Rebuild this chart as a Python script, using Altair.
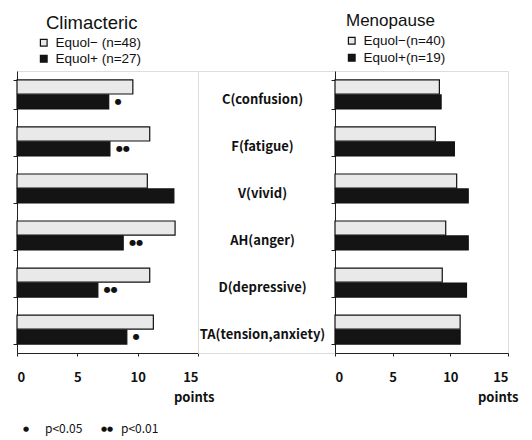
import altair as alt
import pandas as pd

categories = ["C(confusion)", "F(fatigue)", "V(vivid)", "AH(anger)", "D(depressive)", "TA(tension,anxiety)"]

clim_groups = ["Equol− (n=48)", "Equol+ (n=27)"]
clim_neg = [9.6, 11.0, 10.8, 13.1, 11.0, 11.3]
clim_pos = [7.6, 7.7, 13.0, 8.8, 6.7, 9.1]
clim_sig = ["●", "●●", "", "●●", "●●", "●"]

meno_groups = ["Equol−(n=40)", "Equol+(n=19)"]
meno_neg = [9.05, 8.7, 10.55, 9.6, 9.3, 10.85]
meno_pos = [9.2, 10.35, 11.55, 11.55, 11.4, 10.85]

x_ticks = [0, 5, 10, 15]
foot_symbols = ["●", "●●"]
foot_labels = ["p<0.05", "p<0.01"]

FONT = "Liberation Sans"
BOLD = "Noto Sans CJK JP"
H = 282
WL, WM, WR = 181, 137, 173


def make_df(neg, pos, groups, sig=None):
    rows = []
    for i, c in enumerate(categories):
        rows.append({"cat": c, "grp": groups[0], "val": neg[i], "sig": ""})
        rows.append({"cat": c, "grp": groups[1], "val": pos[i], "sig": sig[i] if sig else ""})
    return pd.DataFrame(rows)


def panel(df, groups, title, tsize, width, title_dx, leg_x, leg_y, row_pad, points_x, toff, extra=None):
    yscale = alt.Scale(domain=categories, paddingInner=0.383, paddingOuter=0.19)
    base = alt.Chart(df)
    bars = base.mark_bar(stroke="#111111", strokeWidth=1.2).encode(
        x=alt.X("val:Q", scale=alt.Scale(domain=[0, 15], nice=False),
                axis=alt.Axis(values=x_ticks, title="points", grid=False,
                              domainColor="#222", tickColor="#222", tickSize=3,
                              labelFont=BOLD, labelFontWeight="bold", labelFontSize=13,
                              labelColor="#111", labelPadding=15,
                              titleFont=BOLD, titleFontWeight="bold", titleFontSize=13,
                              titleColor="#111", titleX=points_x, titleY=48,
                              titleAlign="right", titleBaseline="alphabetic")),
        y=alt.Y("cat:N", scale=yscale, sort=categories,
                axis=alt.Axis(labels=False, title=None, tickBand="extent", tickSize=4,
                              domainColor="#222", tickColor="#222")),
        yOffset=alt.YOffset("grp:N", scale=alt.Scale(domain=groups, paddingInner=0.06)),
        color=alt.Color("grp:N", scale=alt.Scale(domain=groups, range=["#e9e9e9", "#141414"]),
                        legend=alt.Legend(orient="none", legendX=leg_x, legendY=leg_y, title=None,
                                          symbolType="square", symbolSize=45,
                                          symbolStrokeColor="#111111", symbolStrokeWidth=1.2,
                                          labelFont=FONT, labelFontSize=13.5, labelColor="#111",
                                          rowPadding=row_pad, labelOffset=5)),
    )
    layers = [bars]
    if extra is not None:
        sig = base.transform_filter("datum.sig != ''").mark_text(
            align="left", baseline="middle", dx=6, fontSize=8, color="#111", font="DejaVu Sans"
        ).encode(
            x="val:Q",
            y=alt.Y("cat:N", scale=yscale, sort=categories),
            yOffset=alt.YOffset("grp:N", scale=alt.Scale(domain=groups, paddingInner=0.06)),
            text="sig:N",
        )
        layers.append(sig)
        layers.extend(extra)
    return alt.layer(*layers).properties(
        width=width, height=H,
        title=alt.TitleParams(title, anchor="start", frame="group", dx=title_dx, offset=toff,
                              fontSize=tsize, font=FONT, fontWeight="normal", color="#111"),
    ).resolve_scale(color="independent")


foot = [
    alt.Chart(pd.DataFrame({"t": [foot_symbols[0]]})).mark_text(
        align="left", baseline="middle", fontSize=7, font="DejaVu Sans", color="#111"
    ).encode(text="t:N", x=alt.value(6), y=alt.value(H + 76)),
    alt.Chart(pd.DataFrame({"t": [foot_labels[0]]})).mark_text(
        align="left", baseline="middle", fontSize=12, font=BOLD, color="#111"
    ).encode(text="t:N", x=alt.value(28), y=alt.value(H + 76)),
    alt.Chart(pd.DataFrame({"t": [foot_symbols[1]]})).mark_text(
        align="left", baseline="middle", fontSize=7, font="DejaVu Sans", color="#111"
    ).encode(text="t:N", x=alt.value(84), y=alt.value(H + 76)),
    alt.Chart(pd.DataFrame({"t": [foot_labels[1]]})).mark_text(
        align="left", baseline="middle", fontSize=12, font=BOLD, color="#111"
    ).encode(text="t:N", x=alt.value(104), y=alt.value(H + 76)),
]

left = panel(make_df(clim_neg, clim_pos, clim_groups, clim_sig), clim_groups, "Climacteric", 18.5,
             WL, 29, 20, -35, 1, 197, 4, extra=foot)
right = panel(make_df(meno_neg, meno_pos, meno_groups), meno_groups, "Menopause", 17,
              WR, 11, 10, -37, 2, 183, 4)

mid = alt.Chart(pd.DataFrame({"cat": categories})).mark_text(
    align="center", baseline="middle", dy=5, fontSize=13, font=BOLD, fontWeight="bold", color="#111"
).encode(
    y=alt.Y("cat:N", scale=alt.Scale(domain=categories, paddingInner=0.383, paddingOuter=0.19),
            sort=categories, axis=None),
    x=alt.value(WM / 2 - 4),
    text="cat:N",
).properties(width=WM, height=H)

chart = alt.hconcat(left, mid, right, spacing=0, bounds="flush").resolve_scale(
    color="independent", x="independent", y="independent", yOffset="independent"
).properties(
    padding={"left": 4, "top": 3, "right": 0, "bottom": 0}
).configure_view(stroke=None).configure(background="white")

chart.save("out.html", embed_options={"renderer": "svg", "actions": False})
